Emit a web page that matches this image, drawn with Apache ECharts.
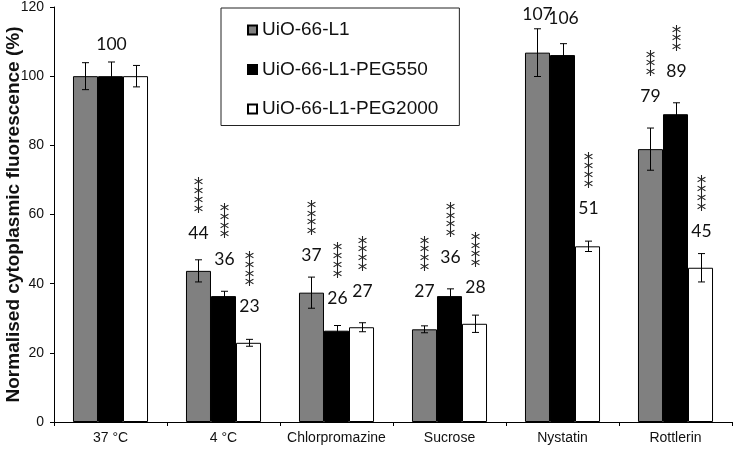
<!DOCTYPE html>
<html><head><meta charset="utf-8">
<script src="https://cdn.jsdelivr.net/npm/echarts@6/dist/echarts.min.js"></script>
<style>html,body{margin:0;padding:0;background:#fff}#c{width:736px;height:449px}</style>
</head><body><div id="c"></div>
<script>
// ---- data ----
const categories = ['37 °C', '4 °C', 'Chlorpromazine', 'Sucrose', 'Nystatin', 'Rottlerin'];
const seriesNames = ['UiO-66-L1', 'UiO-66-L1-PEG550', 'UiO-66-L1-PEG2000'];
const valuesL1 = [100, 43.7, 37.4, 26.8, 106.8, 78.9];
const valuesPEG550 = [100, 36.4, 26.4, 36.4, 106.1, 89.0];
const valuesPEG2000 = [100, 22.9, 27.4, 28.4, 50.8, 44.6];
const errorsL1 = [3.9, 3.2, 4.5, 1.0, 6.9, 6.1];
const errorsPEG550 = [4.1, 1.4, 1.5, 2.1, 3.3, 3.3];
const errorsPEG2000 = [3.1, 1.0, 1.3, 2.5, 1.5, 4.1];
const labelsL1 = ['', '44', '37', '27', '107', '79'];
const labelsPEG550 = ['100', '36', '26', '36', '106', '89'];
const labelsPEG2000 = ['', '23', '27', '28', '51', '45'];
const starsL1 = ['', '****', '****', '****', '', '***'];
const starsPEG550 = ['', '****', '****', '****', '', '***'];
const starsPEG2000 = ['', '****', '****', '****', '****', '****'];
const yMin = 0, yMax = 120, yInterval = 20;

// ---- layout (pixel lift of each annotation above its error bar) ----
const liftL1 = [0, 26.6, 21.4, 34.3, 14.6, 31.3];
const liftPEG550 = [17.8, 32.4, 27.4, 31.2, 25.7, 31];
const liftPEG2000 = [0, 32.5, 31.2, 27.5, 32.9, 22.5];

const GAP = 0.336;
const FONT = '"Liberation Sans", Arial, sans-serif';
const colors = ['#808080', '#000000', '#ffffff'];

function barSeries(k, values) {
  return {
    type: 'bar', name: seriesNames[k], data: values,
    barGap: '0%', barCategoryGap: (GAP * 100) + '%',
    itemStyle: { color: colors[k], borderColor: '#000', borderWidth: 1 },
    silent: true
  };
}

function errSeries(k, values, errors, labels, stars, lifts) {
  return {
    type: 'custom', name: 'err' + k, clip: false, z: 5, silent: true,
    data: values.map((v, i) => [i, v, errors[i]]),
    encode: { x: 0, y: 1 },
    renderItem(params, api) {
      const i = params.dataIndex;
      const cat = api.value(0), v = api.value(1), e = api.value(2);
      const band = api.size([1, 0])[0];
      const bw = band * (1 - GAP) / 3;
      const dx = (k - 1) * bw;
      const pTop = api.coord([cat, v + e]);
      const pBot = api.coord([cat, v - e]);
      const x = Math.round(pTop[0] + dx) + 0.5;
      const cap = 3.5;
      const ls = { stroke: '#000', lineWidth: 1 };
      const children = [
        { type: 'line', shape: { x1: x, y1: pTop[1], x2: x, y2: pBot[1] }, style: ls },
        { type: 'line', shape: { x1: x - cap, y1: pTop[1], x2: x + cap, y2: pTop[1] }, style: ls },
        { type: 'line', shape: { x1: x - cap, y1: pBot[1], x2: x + cap, y2: pBot[1] }, style: ls }
      ];
      const lab = labels[i];
      if (lab) {
        const ly = pTop[1] - lifts[i];
        children.push({
          type: 'text', x: x, y: ly,
          style: { text: lab, fill: '#111', font: '17.5px Lato, "Open Sans", sans-serif',
                   textAlign: 'center', textVerticalAlign: 'middle', align: 'center', verticalAlign: 'middle' }
        });
        const s = stars[i];
        for (let j = 0; j < s.length; j++) {
          const sy = ly - 25 - j * 8.75;
          children.push({
            type: 'text', x: x, y: sy + 4.5,
            style: { text: '*', fill: '#222', font: '19px "DejaVu Sans", sans-serif',
                     textAlign: 'center', textVerticalAlign: 'middle', align: 'center', verticalAlign: 'middle' }
          });
        }
      }
      return { type: 'group', children };
    }
  };
}

const chart = echarts.init(document.getElementById('c'), null, { renderer: 'canvas' });
chart.setOption({
  animation: false,
  backgroundColor: '#fff',
  textStyle: { fontFamily: FONT },
  grid: { left: 54, right: 4, top: 7, bottom: 27, containLabel: false, outerBoundsMode: 'none' },
  legend: {
    data: seriesNames, orient: 'vertical', left: 221, top: 8,
    padding: [12.5, 21, 7, 26], itemGap: 20.5, itemWidth: 9, itemHeight: 9,
    borderColor: '#222', borderWidth: 1, icon: 'rect',
    textStyle: { fontSize: 19, color: '#111', fontFamily: FONT }
  },
  xAxis: {
    type: 'category', data: categories,
    axisLine: { lineStyle: { color: '#000', width: 1 } },
    axisTick: { show: true, length: 4, interval: 0, lineStyle: { color: '#000' } },
    axisLabel: { interval: 0, fontSize: 14, color: '#111', margin: 9, fontFamily: FONT },
    splitLine: { show: false }
  },
  yAxis: {
    type: 'value', min: yMin, max: yMax, interval: yInterval,
    name: 'Normalised cytoplasmic fluorescence (%)', nameLocation: 'middle', nameGap: 31,
    nameMoveOverlap: false,
    nameTextStyle: { fontSize: 19, fontWeight: 'bold', color: '#111', fontFamily: FONT },
    axisLine: { show: true, lineStyle: { color: '#000', width: 1 } },
    axisTick: { show: true, length: 4, lineStyle: { color: '#000' } },
    axisLabel: { fontSize: 14, color: '#111', margin: 10, fontFamily: FONT },
    splitLine: { show: false }
  },
  series: [
    barSeries(0, valuesL1), barSeries(1, valuesPEG550), barSeries(2, valuesPEG2000),
    errSeries(0, valuesL1, errorsL1, labelsL1, starsL1, liftL1),
    errSeries(1, valuesPEG550, errorsPEG550, labelsPEG550, starsPEG550, liftPEG550),
    errSeries(2, valuesPEG2000, errorsPEG2000, labelsPEG2000, starsPEG2000, liftPEG2000)
  ]
});
</script>
</body></html>
